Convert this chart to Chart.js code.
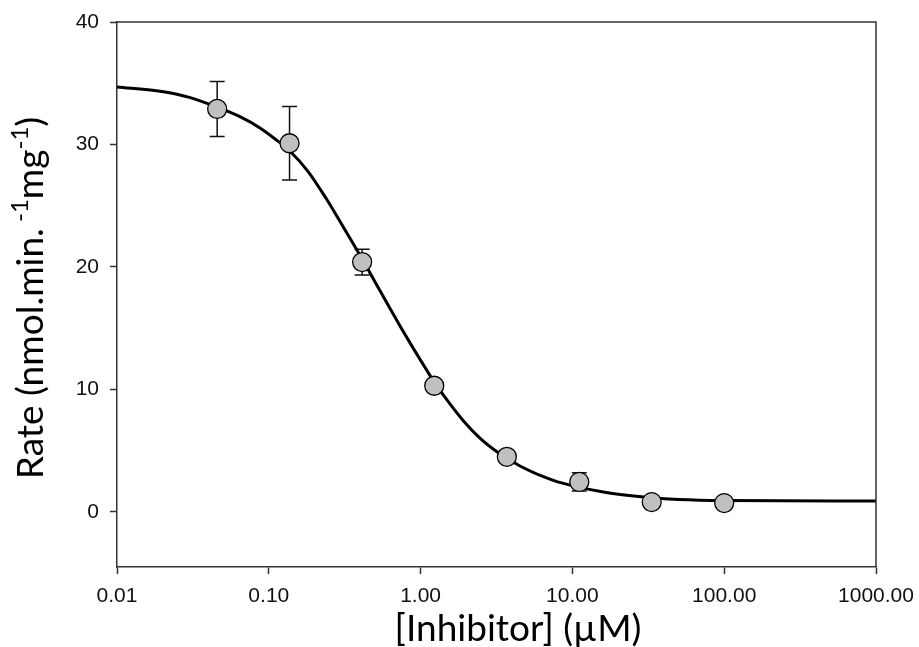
<!DOCTYPE html>
<html lang="en">
<head>
  <meta charset="UTF-8" />
  <title>Rate vs Inhibitor</title>
  <script src="https://cdn.jsdelivr.net/npm/chart.js"></script>
  <style>
    html, body { margin: 0; padding: 0; background: #fff; }
    #wrap { width: 919px; height: 647px; }
  </style>
</head>
<body>
  <div id="wrap">
    <canvas id="grafico" width="919" height="647"></canvas>
  </div>

  <script>
    // measured points (mean +/- error)
    const inhibitor = [0.0457, 0.137, 0.412, 1.23, 3.70, 11.1, 33.3, 100];
    const rate = [32.9, 30.1, 20.4, 10.3, 4.5, 2.45, 0.8, 0.72];
    const rateErr = [2.25, 3.0, 1.05, 0.3, 0.25, 0.75, 0.2, 0.2];

    // fitted curve
    const curveX = [0.01, 0.0192, 0.03, 0.0456, 0.065, 0.0875, 0.11, 0.138, 0.18, 0.24, 0.3, 0.399, 0.5, 0.629, 0.75, 0.895, 1.05, 1.23, 1.5, 1.91, 2.5, 3.33, 4.52, 6.5, 8, 11, 16, 22, 33.3, 50, 100, 1000];
    const curveY = [34.7, 34.35, 33.85, 33.05, 32.25, 31.35, 30.45, 29.45, 27.85, 25.55, 23.55, 20.95, 18.8, 16.6, 14.95, 13.35, 11.95, 10.6, 9.1, 7.45, 5.95, 4.75, 3.75, 2.85, 2.45, 2.02, 1.62, 1.38, 1.15, 1.02, 0.93, 0.88];

    // axis ticks
    const xTickValues = [0.01, 0.1, 1, 10, 100, 1000];
    const xTickLabels = ['0.01', '0.10', '1.00', '10.00', '100.00', '1000.00'];
    const yTickValues = [0, 10, 20, 30, 40];

    const axisColor = '#333';

    // error bars, frame and axis titles
    const extras = {
      id: 'extras',
      beforeDatasetsDraw(chart) {
        const ctx = chart.ctx;
        const sx = chart.scales.x, sy = chart.scales.y;
        ctx.save();
        ctx.strokeStyle = '#111';
        ctx.lineWidth = 1.5;
        for (let i = 0; i < inhibitor.length; i++) {
          const px = sx.getPixelForValue(inhibitor[i]);
          const top = sy.getPixelForValue(rate[i] + rateErr[i]);
          const bot = sy.getPixelForValue(rate[i] - rateErr[i]);
          ctx.beginPath();
          ctx.moveTo(px, top); ctx.lineTo(px, bot);
          ctx.moveTo(px - 7.5, top); ctx.lineTo(px + 7.5, top);
          ctx.moveTo(px - 7.5, bot); ctx.lineTo(px + 7.5, bot);
          ctx.stroke();
        }
        ctx.restore();
      },
      afterDraw(chart) {
        const ctx = chart.ctx;
        const a = chart.chartArea;
        ctx.save();
        // top and right border
        ctx.strokeStyle = axisColor;
        ctx.lineWidth = 1.5;
        ctx.beginPath();
        ctx.moveTo(a.left, a.top);
        ctx.lineTo(a.right, a.top);
        ctx.lineTo(a.right, a.bottom);
        ctx.stroke();

        // x title
        ctx.fillStyle = '#000';
        ctx.font = '37px Lato';
        ctx.textAlign = 'center';
        ctx.textBaseline = 'alphabetic';
        ctx.fillText('[Inhibitor] (\u00B5M)', 518, 641);

        // y title with superscripts
        const parts = [
          { t: 'Rate (nmol.min.', sup: false },
          { t: ' -1', sup: true },
          { t: 'mg', sup: false },
          { t: '-1', sup: true },
          { t: ')', sup: false }
        ];
        const big = '37px Lato', small = '24px Lato';
        let total = 0;
        parts.forEach(p => {
          ctx.font = p.sup ? small : big;
          p.w = ctx.measureText(p.t).width;
          total += p.w;
        });
        ctx.translate(43, 298);
        ctx.rotate(-Math.PI / 2);
        ctx.textAlign = 'left';
        let cx = -total / 2;
        parts.forEach(p => {
          ctx.font = p.sup ? small : big;
          ctx.fillText(p.t, cx, p.sup ? -15 : 0);
          cx += p.w;
        });
        ctx.restore();
      }
    };

    const pontos = inhibitor.map((v, i) => ({ x: v, y: rate[i] }));
    const curva = curveX.map((v, i) => ({ x: v, y: curveY[i] }));

    const config = {
      type: 'scatter',
      data: {
        datasets: [
          {
            label: 'Fit',
            data: curva,
            showLine: true,
            borderColor: '#000',
            borderWidth: 3,
            pointRadius: 0,
            cubicInterpolationMode: 'monotone',
            order: 2
          },
          {
            label: 'Rate',
            data: pontos,
            pointRadius: 9.5,
            pointBackgroundColor: '#c0c0c0',
            pointBorderColor: '#000',
            pointBorderWidth: 1.3,
            order: 1
          }
        ]
      },
      options: {
        responsive: false,
        animation: false,
        devicePixelRatio: 1,
        layout: { padding: { left: 0, right: 43, top: 22, bottom: 0 } },
        plugins: {
          legend: { display: false },
          tooltip: { enabled: false }
        },
        scales: {
          x: {
            type: 'logarithmic',
            min: 0.01,
            max: 1000,
            afterBuildTicks: s => { s.ticks = xTickValues.map(v => ({ value: v })); },
            afterFit: s => { s.height = 80; s.paddingLeft = 0; s.paddingRight = 0; },
            ticks: {
              callback: (v, i) => xTickLabels[i],
              color: '#111',
              font: { family: 'Liberation Sans', size: 21 },
              padding: 10,
              maxRotation: 0,
              autoSkip: false
            },
            grid: { drawOnChartArea: false, tickLength: 7, tickColor: axisColor, tickWidth: 1.5 },
            border: { color: axisColor, width: 1.5 }
          },
          y: {
            type: 'linear',
            min: -4.5,
            max: 40,
            afterBuildTicks: s => { s.ticks = yTickValues.map(v => ({ value: v })); },
            afterFit: s => { s.width = 117; s.paddingTop = 0; s.paddingBottom = 0; },
            ticks: {
              color: '#111',
              font: { family: 'Liberation Sans', size: 21 },
              padding: 11
            },
            grid: { drawOnChartArea: false, tickLength: 7, tickColor: axisColor, tickWidth: 1.5 },
            border: { color: axisColor, width: 1.5 }
          }
        }
      },
      plugins: [extras]
    };

    new Chart(document.getElementById('grafico'), config);
  </script>
</body>
</html>
